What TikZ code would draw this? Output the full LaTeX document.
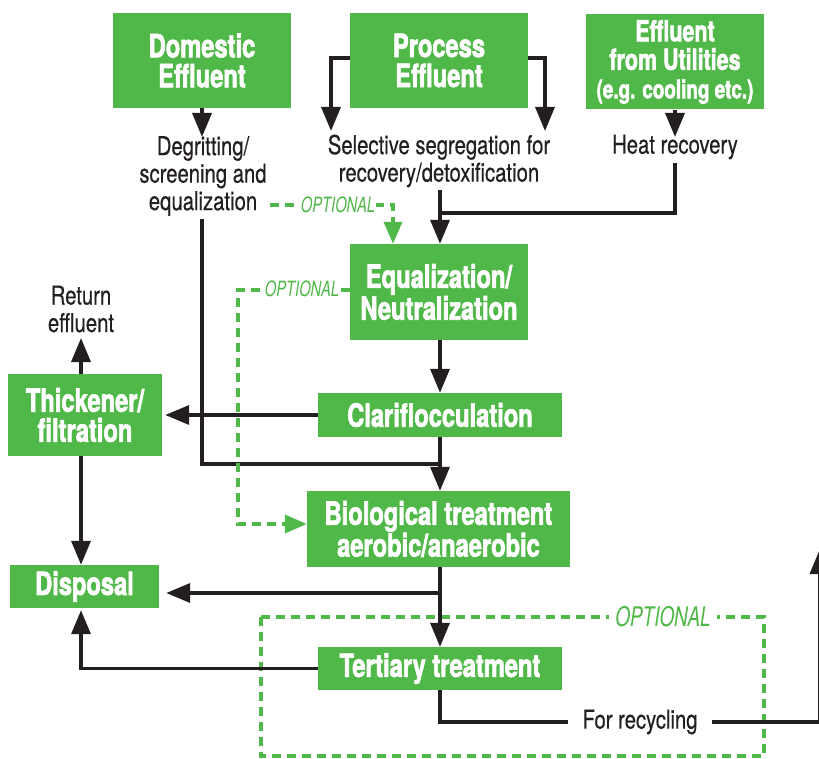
\documentclass[tikz,border=0pt]{standalone}
\usepackage{fontspec}
\setmainfont{TeX Gyre Heros}
\newfontfamily\boxff{TeX Gyre Heros}[FakeStretch=0.74,FakeBold=2]
\newfontfamily\bodyff{TeX Gyre Heros}[FakeStretch=0.78,FakeBold=0.4]
\newfontfamily\optff{TeX Gyre Heros}[FakeStretch=0.7]
\usetikzlibrary{arrows.meta}
\definecolor{gr}{RGB}{80,184,72}
\definecolor{bk}{RGB}{35,31,32}
\begin{document}
\begin{tikzpicture}[x=1pt,y=-1pt,
  gbox/.style={fill=gr,text=white,font=\boxff\bfseries\fontsize{32}{30}\selectfont,align=center,inner sep=0pt},
  lbl/.style={text=bk,font=\bodyff\fontsize{26}{27.5}\selectfont,align=center,inner sep=3pt},
  flow/.style={draw=bk,line width=3.5pt,-{Triangle[length=24pt,width=19pt]}},
  plain/.style={draw=bk,line width=3.5pt},
  opt/.style={draw=gr,line width=3.8pt,dash pattern=on 9pt off 6pt},
  optarr/.style={opt,-{Triangle[length=22pt,width=18pt]}},
  optlbl/.style={text=gr,font=\optff\itshape\fontsize{21}{22}\selectfont,fill=white,inner sep=1pt}]
\useasboundingbox (0,0) rectangle (819,759);

% column coordinates
\coordinate (colA) at (81,0);
\coordinate (colM) at (440,0);

% boxes
\node[gbox,minimum width=178pt,minimum height=95pt] (dom) at (202,60.5) {Domestic\\Effluent};
\node[gbox,minimum width=178pt,minimum height=95pt] (proc) at (439,60.5) {Process\\Effluent};
\node[gbox,minimum width=178pt,minimum height=95pt,font=\boxff\bfseries\fontsize{29}{28.5}\selectfont] (util) at (675,62) {Effluent\\from Utilities\\{\fontsize{25.5}{28.5}\selectfont(e.g. cooling etc.)}};
\node[gbox,minimum width=178pt,minimum height=96pt] (equ) at (439,292) {Equalization/\\Neutralization};
\node[gbox,minimum width=244pt,minimum height=44pt] (clar) at (440,415) {Clariflocculation};
\node[gbox,minimum width=154pt,minimum height=82pt] (thick) at (85,415) {Thickener/\\filtration};
\node[gbox,minimum width=263pt,minimum height=76pt] (bio) at (438.5,529) {Biological treatment\\aerobic/anaerobic};
\node[gbox,minimum width=149pt,minimum height=43pt] (disp) at (84.5,586.5) {Disposal};
\node[gbox,minimum width=244pt,minimum height=43pt] (tert) at (440,668.5) {Tertiary treatment};

% text labels
\node[lbl] (degrit) at (203,176) {Degritting/\\screening and\\equalization};
\node[lbl] (sel) at (439,161) {Selective segregation for\\recovery/detoxification};
\node[lbl] (heat) at (675,147) {Heat recovery};
\node[lbl] (ret) at (81,309) {Return\\effluent};
\node[lbl,inner xsep=14pt] (rec) at (640,722) {For recycling};

% optional dashed frame
\draw[opt] (261,617) rectangle (764,756);
\node[optlbl,font=\optff\itshape\fontsize{27}{28}\selectfont,inner xsep=6pt] (opt3) at (663,617) {OPTIONAL};

% helper coordinates
\coordinate (pL) at (331,131);
\coordinate (pR) at (545,131);
\coordinate (j1) at (440,213);
\coordinate (j2) at (440,464);
\coordinate (j3) at (440,593);
\coordinate (retb) at (81,338);
\coordinate (rt) at (819.5,550);
\coordinate (c2) at (238,400);

% black connectors
\draw[flow] (dom.south) -- (dom.south |- 0,137);
\draw[flow] (proc.west |- 0,58) -| (pL);
\draw[flow] (proc.east |- 0,58) -| (pR);
\draw[flow] (util.south) -- (util.south |- 0,137);
\draw[plain] (heat.south) |- (j1);
\draw[flow] (sel.south -| colM) -- (equ.north -| colM);
\draw[plain] (degrit.south -| 202,0) |- (j2);
\draw[flow] (equ.south -| colM) -- (clar.north -| colM);
\draw[flow] (clar.south -| colM) -- (bio.north -| colM);
\draw[flow,shorten >=3pt] (clar.west) -- (thick.east);
\draw[flow] (thick.north -| colA) -- (retb);
\draw[flow] (thick.south -| colA) -- (disp.north -| colA);
\draw[flow] (bio.south -| colM) -- (tert.north -| colM);
\draw[flow,shorten >=7pt] (j3) -- (disp.east |- j3);
\draw[flow,shorten >=2pt] (tert.west) -| (disp.south -| colA);
\draw[plain] (tert.south -| colM) |- (rec.west);
\draw[flow] (rec.east) -| (rt);

% green optional connectors
\draw[optarr] (degrit.east |- 0,205) -| (equ.north -| 393,0);
\node[optlbl] (opt1) at (338,205) {OPTIONAL};
\draw[optarr] (equ.west |- 0,290) -| (c2) |- (bio.west |- 0,524);
\node[optlbl] (opt2) at (302,289) {OPTIONAL};
\end{tikzpicture}
\end{document}
